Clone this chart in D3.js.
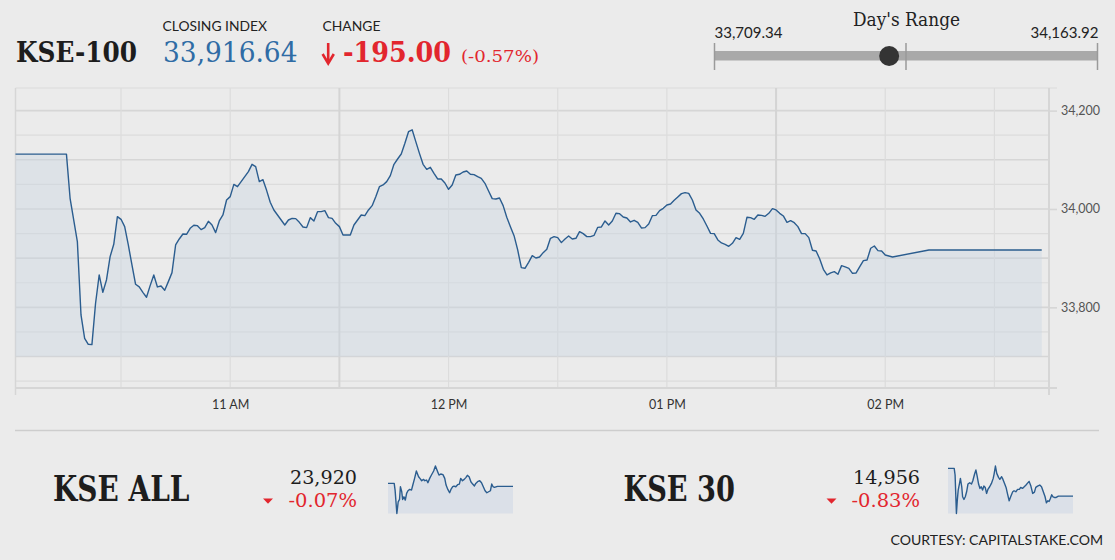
<!DOCTYPE html>
<html lang="en">
<head>
<meta charset="UTF-8">
<title>KSE-100 intraday</title>
<script src="https://d3js.org/d3.v7.min.js"></script>
<style>
  body { margin: 0; background: #ebebeb; }
  svg { display: block; }
  .sans { font-family: Lato, "Open Sans", sans-serif; }
  .serif { font-family: "DejaVu Serif", serif; }
</style>
</head>
<body>
<script>
// ---- data ----
const prevClose = 34111.64;
const closeIndex = 33916.64;
const dayLow = 33709.34, dayHigh = 34163.92;

const kseTimes = [
  "10:01","10:15","10:16","10:18","10:19",
  "10:20","10:21","10:22","10:23","10:24","10:25","10:26","10:27","10:28","10:29",
  "10:30","10:31","10:32","10:33","10:34","10:35","10:36","10:37","10:38","10:39",
  "10:40","10:41","10:42","10:43","10:44","10:45","10:46","10:47","10:48","10:49",
  "10:50","10:51","10:52","10:53","10:54","10:55","10:56","10:57","10:58","10:59",
  "11:00","11:01","11:02","11:03","11:04","11:05","11:06","11:07","11:08","11:09",
  "11:10","11:11","11:12","11:13","11:14","11:15","11:16","11:17","11:18","11:19",
  "11:20","11:21","11:22","11:23","11:24","11:25","11:26","11:27","11:28","11:29",
  "11:30","11:31","11:32","11:33","11:34","11:35","11:36","11:37","11:38","11:39",
  "11:40","11:41","11:42","11:43","11:44","11:45","11:46","11:47","11:48","11:49",
  "11:50","11:51","11:52","11:53","11:54","11:55","11:56","11:57","11:58","11:59",
  "12:00","12:01","12:02","12:03","12:04","12:05","12:06","12:07","12:08","12:09",
  "12:10","12:11","12:12","12:13","12:14","12:15","12:16","12:17","12:18","12:19",
  "12:20","12:21","12:22","12:23","12:24","12:25","12:26","12:27","12:28","12:29",
  "12:30","12:31","12:32","12:33","12:34","12:35","12:36","12:37","12:38","12:39",
  "12:40","12:41","12:42","12:43","12:44","12:45","12:46","12:47","12:48","12:49",
  "12:50","12:51","12:52","12:53","12:54","12:55","12:56","12:57","12:58","12:59",
  "13:00","13:01","13:02","13:03","13:04","13:05","13:06","13:07","13:08","13:09",
  "13:10","13:11","13:12","13:13","13:14","13:15","13:16","13:17","13:18","13:19",
  "13:20","13:21","13:22","13:23","13:24","13:25","13:26","13:27","13:28","13:29",
  "13:30","13:31","13:32","13:33","13:34","13:35","13:36","13:37","13:38","13:39",
  "13:40","13:41","13:42","13:43","13:44","13:45","13:46","13:47","13:48","13:49",
  "13:50","13:51","13:52","13:53","13:54","13:55","13:56","13:57","13:58","13:59",
  "14:00","14:02","14:12","14:43"
];
const kseValues = [
  34111.64, 34111.64, 34021.7, 33933.6, 33784.6,
  33737.1, 33724.9, 33724.3, 33808.3, 33865.9, 33830.6, 33855.7, 33903.1, 33928.2, 33984.4,
  33979.0, 33964.1, 33926.8, 33886.2, 33846.9, 33841.5, 33830.6, 33820.5, 33844.2, 33865.9,
  33841.5, 33843.5, 33834.7, 33852.3, 33870.6, 33926.8, 33939.0, 33949.2, 33948.5, 33960.7,
  33966.8, 33966.1, 33958.0, 33962.1, 33974.9, 33967.5, 33951.9, 33975.6, 33987.8, 34018.3,
  34025.1, 34050.1, 34045.4, 34055.6, 34065.7, 34075.9, 34090.8, 34086.0, 34055.6, 34059.6,
  34037.9, 34013.6, 33998.0, 33987.8, 33977.6, 33967.5, 33977.6, 33981.0, 33980.4, 33972.9,
  33963.4, 33962.1, 33982.4, 33975.6, 33994.6, 33994.6, 33996.6, 33982.4, 33981.0, 33970.9,
  33964.1, 33947.2, 33947.2, 33947.2, 33967.5, 33977.6, 33987.8, 33986.4, 33998.0, 34006.8,
  34025.1, 34045.4, 34048.8, 34055.6, 34067.8, 34090.8, 34101.6, 34111.8, 34133.5, 34157.2,
  34161.0, 34136.9, 34113.1, 34090.8, 34080.6, 34084.7, 34072.5, 34061.0, 34061.0, 34052.8,
  34040.0, 34048.8, 34069.1, 34070.5, 34075.2, 34077.2, 34070.5, 34069.8, 34065.7, 34062.3,
  34052.2, 34036.6, 34021.0, 34020.3, 34022.4, 34006.8, 33983.1, 33964.1, 33945.8, 33916.7,
  33880.8, 33879.4, 33891.6, 33905.1, 33900.4, 33902.4, 33911.2, 33918.0, 33940.4, 33943.8,
  33941.7, 33931.6, 33939.0, 33945.1, 33939.0, 33940.4, 33953.9, 33949.9, 33943.8, 33943.8,
  33946.5, 33962.7, 33963.4, 33975.6, 33967.5, 33975.6, 33991.2, 33990.5, 33983.7, 33981.7,
  33973.6, 33977.0, 33972.9, 33961.4, 33962.1, 33969.5, 33986.4, 33987.1, 33996.6, 34001.4,
  34008.1, 34010.2, 34017.6, 34024.4, 34031.2, 34033.2, 34031.8, 34018.3, 33998.0, 33991.2,
  33979.7, 33965.4, 33950.5, 33949.9, 33937.0, 33930.9, 33928.2, 33924.1, 33930.2, 33941.7,
  33938.3, 33950.5, 33983.1, 33982.4, 33979.0, 33987.8, 33987.1, 33985.1, 33991.2, 34000.7,
  33998.0, 33991.2, 33985.8, 33972.9, 33976.3, 33972.2, 33964.1, 33949.9, 33949.9, 33941.7,
  33916.0, 33914.6, 33898.4, 33877.4, 33865.9, 33869.9, 33872.6, 33867.2, 33884.8, 33882.1,
  33879.4, 33869.2, 33869.9, 33882.8, 33895.0, 33896.3, 33920.1, 33924.8, 33915.3, 33914.6,
  33906.5, 33902.4, 33916.64, 33916.64
];

const yTicks = [33800, 34000, 34200];
const xTickLabels = ["11 AM", "12 PM", "01 PM", "02 PM"];

const allTimes = ["10:01","10:15","10:17","10:21","10:24","10:27","10:29","10:32","10:34","10:37",
  "10:40","10:43","10:46","10:50","10:54","10:57","11:01","11:05","11:10","11:13",
  "11:17","11:21","11:24","11:28","11:31","11:35","11:39","11:44","11:48","11:53",
  "11:56","12:00","12:05","12:09","12:12","12:16","12:20","12:23","12:27","12:30",
  "12:34","12:38","12:42","12:45","12:49","12:53","12:57","13:00","13:04","13:08",
  "13:12","13:16","13:19","13:23","13:28","13:32","13:36","13:40","13:44","13:48",
  "13:52","13:55","13:58","14:01","14:08","14:43"];
const allValues = [23936.8, 23936.8, 23899.4, 23768.5, 23834.0, 23847.1, 23918.1, 23890.1, 23847.1, 23862.0,
  23843.3, 23880.7, 23895.7, 23903.2, 23899.4, 23927.5, 23964.9, 24006.0, 23974.2, 23964.9,
  23951.8, 23959.3, 23951.8, 23955.5, 23940.6, 23964.9, 23983.6, 24006.0, 24034.0, 24002.3,
  23983.6, 23989.2, 23985.5, 23964.9, 23927.5, 23903.2, 23884.5, 23903.2, 23918.1, 23921.9,
  23918.1, 23929.4, 23933.1, 23964.9, 23951.8, 23959.3, 23970.5, 23981.7, 23974.2, 23946.2,
  23933.1, 23921.9, 23936.8, 23946.2, 23951.8, 23940.6, 23918.1, 23895.7, 23884.5, 23890.1,
  23895.7, 23933.1, 23918.1, 23914.4, 23920.0, 23920.0];

const k30Times = ["10:01","10:15","10:17","10:20","10:22","10:24","10:27","10:29","10:32","10:34",
  "10:37","10:40","10:43","10:46","10:50","10:54","10:57","11:01","11:04","11:07",
  "11:10","11:13","11:16","11:19","11:22","11:25","11:28","11:31","11:35","11:39",
  "11:43","11:45","11:48","11:51","11:55","11:58","12:02","12:05","12:09","12:12",
  "12:15","12:19","12:23","12:27","12:30","12:34","12:38","12:42","12:45","12:49",
  "12:53","12:57","13:00","13:04","13:08","13:12","13:16","13:19","13:23","13:28",
  "13:32","13:36","13:40","13:43","13:46","13:49","13:52","13:55","13:58","14:01",
  "14:05","14:10","14:43"];
const k30Values = [15081.2, 15081.2, 15051.0, 14877.6, 14937.9, 14983.1, 15013.3, 15035.9, 14998.2, 14953.0,
  14940.9, 14953.0, 14975.6, 15010.3, 15016.3, 15010.3, 15025.4, 15055.5, 15073.6, 15043.5,
  15010.3, 14990.7, 14998.2, 14983.1, 15001.2, 14995.2, 14968.1, 14986.2, 14998.2, 15013.3,
  15035.9, 15055.5, 15091.7, 15058.5, 15040.4, 15031.4, 15043.5, 15031.4, 15010.3, 14995.2,
  14968.1, 14934.9, 14956.0, 14975.6, 14980.1, 14975.6, 14986.2, 14986.2, 14995.2, 14990.7,
  14998.2, 15005.8, 15013.3, 15022.4, 15001.2, 14968.1, 14974.1, 14995.2, 15001.2, 15005.8,
  14998.2, 14975.6, 14953.0, 14925.8, 14934.9, 14931.9, 14945.4, 14962.0, 14953.0, 14950.0,
  14950.0, 14956.0, 14956.0];

// ---- setup ----
const red = "#e2262e", blue = "#2f6ca5", ink = "#1d1d1d", lineCol = "#2b5d8f";
const parse = d3.timeParse("%H:%M");
// plain hyphen as minus sign, like the original widget
const fmt = d3.formatLocale({decimal: ".", thousands: ",", grouping: [3], currency: ["", ""], minus: "-"}).format;
const svg = d3.select("body").append("svg").attr("width", 1115).attr("height", 560);

function label(x, y, s, cls, size, opts) {
  opts = opts || {};
  const t = svg.append("text").attr("class", cls)
    .attr("x", x).attr("y", y)
    .attr("font-size", size)
    .attr("fill", opts.fill || ink)
    .attr("font-weight", opts.weight || "normal")
    .attr("text-anchor", opts.anchor || "start")
    .text(s);
  if (opts.len) t.attr("textLength", opts.len).attr("lengthAdjust", "spacingAndGlyphs");
  return t;
}

// ---- header ----
label(16, 62, "KSE-100", "serif", 27, {weight: "bold", len: 121});
label(162.5, 30.5, "CLOSING INDEX", "sans", 14, {len: 104.5, fill: "#222"});
label(322.5, 30.5, "CHANGE", "sans", 14, {len: 58, fill: "#222"});
label(163, 62, fmt(",.2f")(closeIndex), "serif", 27, {fill: blue, len: 134.5});

// down arrow
svg.append("line").attr("x1", 328.2).attr("x2", 328.2).attr("y1", 43).attr("y2", 61)
  .attr("stroke", red).attr("stroke-width", 2.6);
svg.append("path").attr("d", "M322.6,54 L328.2,63.5 L333.8,54")
  .attr("fill", "none").attr("stroke", red).attr("stroke-width", 2.6);

label(343, 62, fmt(".2f")(closeIndex - prevClose), "serif", 27, {fill: red, weight: "bold", len: 108});
label(461, 62, "(" + fmt(".2f")((closeIndex - prevClose) / prevClose * 100) + "%)", "serif", 17, {fill: red, len: 78});

// ---- day's range ----
const rx = d3.scaleLinear().domain([dayLow, dayHigh]).range([714.5, 1097.5]);
label(906.5, 25.5, "Day's Range", "serif", 19, {anchor: "middle", len: 107, fill: "#222"});
label(714.5, 38, fmt(",.2f")(dayLow), "sans", 15, {len: 68, fill: "#222"});
label(1098.5, 38, fmt(",.2f")(dayHigh), "sans", 15, {anchor: "end", len: 68, fill: "#222"});
svg.append("rect").attr("x", rx(dayLow)).attr("y", 51).attr("width", rx(dayHigh) - rx(dayLow)).attr("height", 9.5)
  .attr("fill", "#a9a9a9");
[dayLow, (dayLow + dayHigh) / 2, dayHigh].forEach(v => {
  svg.append("line").attr("x1", rx(v)).attr("x2", rx(v)).attr("y1", 43).attr("y2", 70)
    .attr("stroke", "#9a9a9a").attr("stroke-width", 1.5);
});
svg.append("circle").attr("cx", rx(closeIndex)).attr("cy", 56).attr("r", 10).attr("fill", "#343434");

// ---- main chart ----
const data = kseTimes.map((t, i) => ({t: parse(t), v: kseValues[i]}));
const x = d3.scaleTime().domain([parse("10:01"), parse("14:45")]).range([15.5, 1049]);
const y = d3.scaleLinear().domain([33636, 34246]).range([388, 88]);

const grid = svg.append("g");
d3.range(33650, 34201, 50).forEach(v => {
  grid.append("line").attr("x1", 15.5).attr("x2", 1049).attr("y1", y(v)).attr("y2", y(v))
    .attr("stroke", v % 100 === 0 ? "#d6d6d6" : "#dcdcdc").attr("stroke-width", v % 100 === 0 ? 1.6 : 1.2);
});
grid.append("line").attr("x1", 15.5).attr("x2", 1057).attr("y1", 88).attr("y2", 88)
  .attr("stroke", "#dcdcdc").attr("stroke-width", 1.2);
d3.timeMinute.every(30).range(parse("10:30"), parse("14:45")).forEach(t => {
  const major = t.getMinutes() === 30 && t.getHours() % 2 === 1;
  grid.append("line").attr("x1", x(t)).attr("x2", x(t)).attr("y1", 88).attr("y2", 388)
    .attr("stroke", major ? "#d4d4d4" : "#dcdcdc").attr("stroke-width", major ? 2 : 1.2);
});
[15.5, 1049].forEach(px => {
  grid.append("line").attr("x1", px).attr("x2", px).attr("y1", 88).attr("y2", 395)
    .attr("stroke", "#d6d6d6").attr("stroke-width", px > 500 ? 2 : 1.5);
});

const area = d3.area().x(d => x(d.t)).y0(y(33700)).y1(d => y(d.v));
svg.append("path").datum(data).attr("d", area).attr("fill", "#c9d6e3").attr("fill-opacity", 0.38);
const line = d3.line().x(d => x(d.t)).y(d => y(d.v));
svg.append("path").datum(data).attr("d", line).attr("fill", "none")
  .attr("stroke", lineCol).attr("stroke-width", 1.4).attr("stroke-linejoin", "round");

// bottom axis line
svg.append("line").attr("x1", 15.5).attr("x2", 1057).attr("y1", 388).attr("y2", 388)
  .attr("stroke", "#d6d6d6").attr("stroke-width", 2);

// x axis labels
const xAxis = svg.append("g").attr("transform", "translate(0,388)")
  .call(d3.axisBottom(x).tickValues(xTickLabels.map((s, i) => parse((11 + i) + ":00")))
    .tickFormat((d, i) => xTickLabels[i]).tickSize(0).tickPadding(12));
xAxis.select(".domain").remove();
xAxis.selectAll("text").attr("font-family", "Lato, sans-serif").attr("font-size", 12.5).attr("fill", "#333");

// right y axis
const yAxis = svg.append("g").attr("transform", "translate(1049,0)")
  .call(d3.axisRight(y).tickValues(yTicks).tickFormat(fmt(",")).tickSize(8).tickPadding(4));
yAxis.select(".domain").remove();
yAxis.selectAll("line").attr("stroke", "#d6d6d6").attr("stroke-width", 1.6);
yAxis.selectAll("text").attr("font-family", "Lato, sans-serif").attr("font-size", 12.5).attr("fill", "#555");

// ---- separator ----
svg.append("line").attr("x1", 15).attr("x2", 1099).attr("y1", 430.5).attr("y2", 430.5)
  .attr("stroke", "#cdcdcd").attr("stroke-width", 1.5);

// ---- sub indices ----
function spark(times, values, x0, x1) {
  const d = times.map((t, i) => ({t: parse(t), v: values[i]}));
  const sx = d3.scaleTime().domain(d3.extent(d, e => e.t)).range([x0, x1]);
  const sy = d3.scaleLinear().domain(d3.extent(d, e => e.v)).range([513.5, 466]);
  svg.append("path").datum(d)
    .attr("d", d3.area().x(e => sx(e.t)).y0(513.5).y1(e => sy(e.v)))
    .attr("fill", "#dbe0e8");
  svg.append("path").datum(d)
    .attr("d", d3.line().x(e => sx(e.t)).y(e => sy(e.v)))
    .attr("fill", "none").attr("stroke", lineCol).attr("stroke-width", 1.4).attr("stroke-linejoin", "round");
}

function block(name, nameX, nameLen, last, prev, numRight, triX, sparkX0, sparkX1, times, values) {
  label(nameX, 501, name, "serif", 36, {weight: "bold", len: nameLen});
  label(numRight, 483.5, fmt(",")(last), "serif", 19, {anchor: "end", len: 67});
  label(numRight, 506.5, fmt(".2f")((last - prev) / prev * 100) + "%", "serif", 19,
    {anchor: "end", fill: red, len: 68.5});
  svg.append("path").attr("d", `M${triX - 5},498.5 L${triX + 5},498.5 L${triX},503.8 Z`).attr("fill", red);
  spark(times, values, sparkX0, sparkX1);
}

block("KSE ALL", 53, 136.5, allValues[allValues.length - 1], allValues[0], 357, 268, 388, 513, allTimes, allValues);
block("KSE 30", 623.5, 111.5, k30Values[k30Values.length - 1], k30Values[0], 920, 831.5, 948, 1073, k30Times, k30Values);

label(1103, 545, "COURTESY: CAPITALSTAKE.COM", "sans", 13, {anchor: "end", len: 212.5, fill: "#222"});
</script>
</body>
</html>
